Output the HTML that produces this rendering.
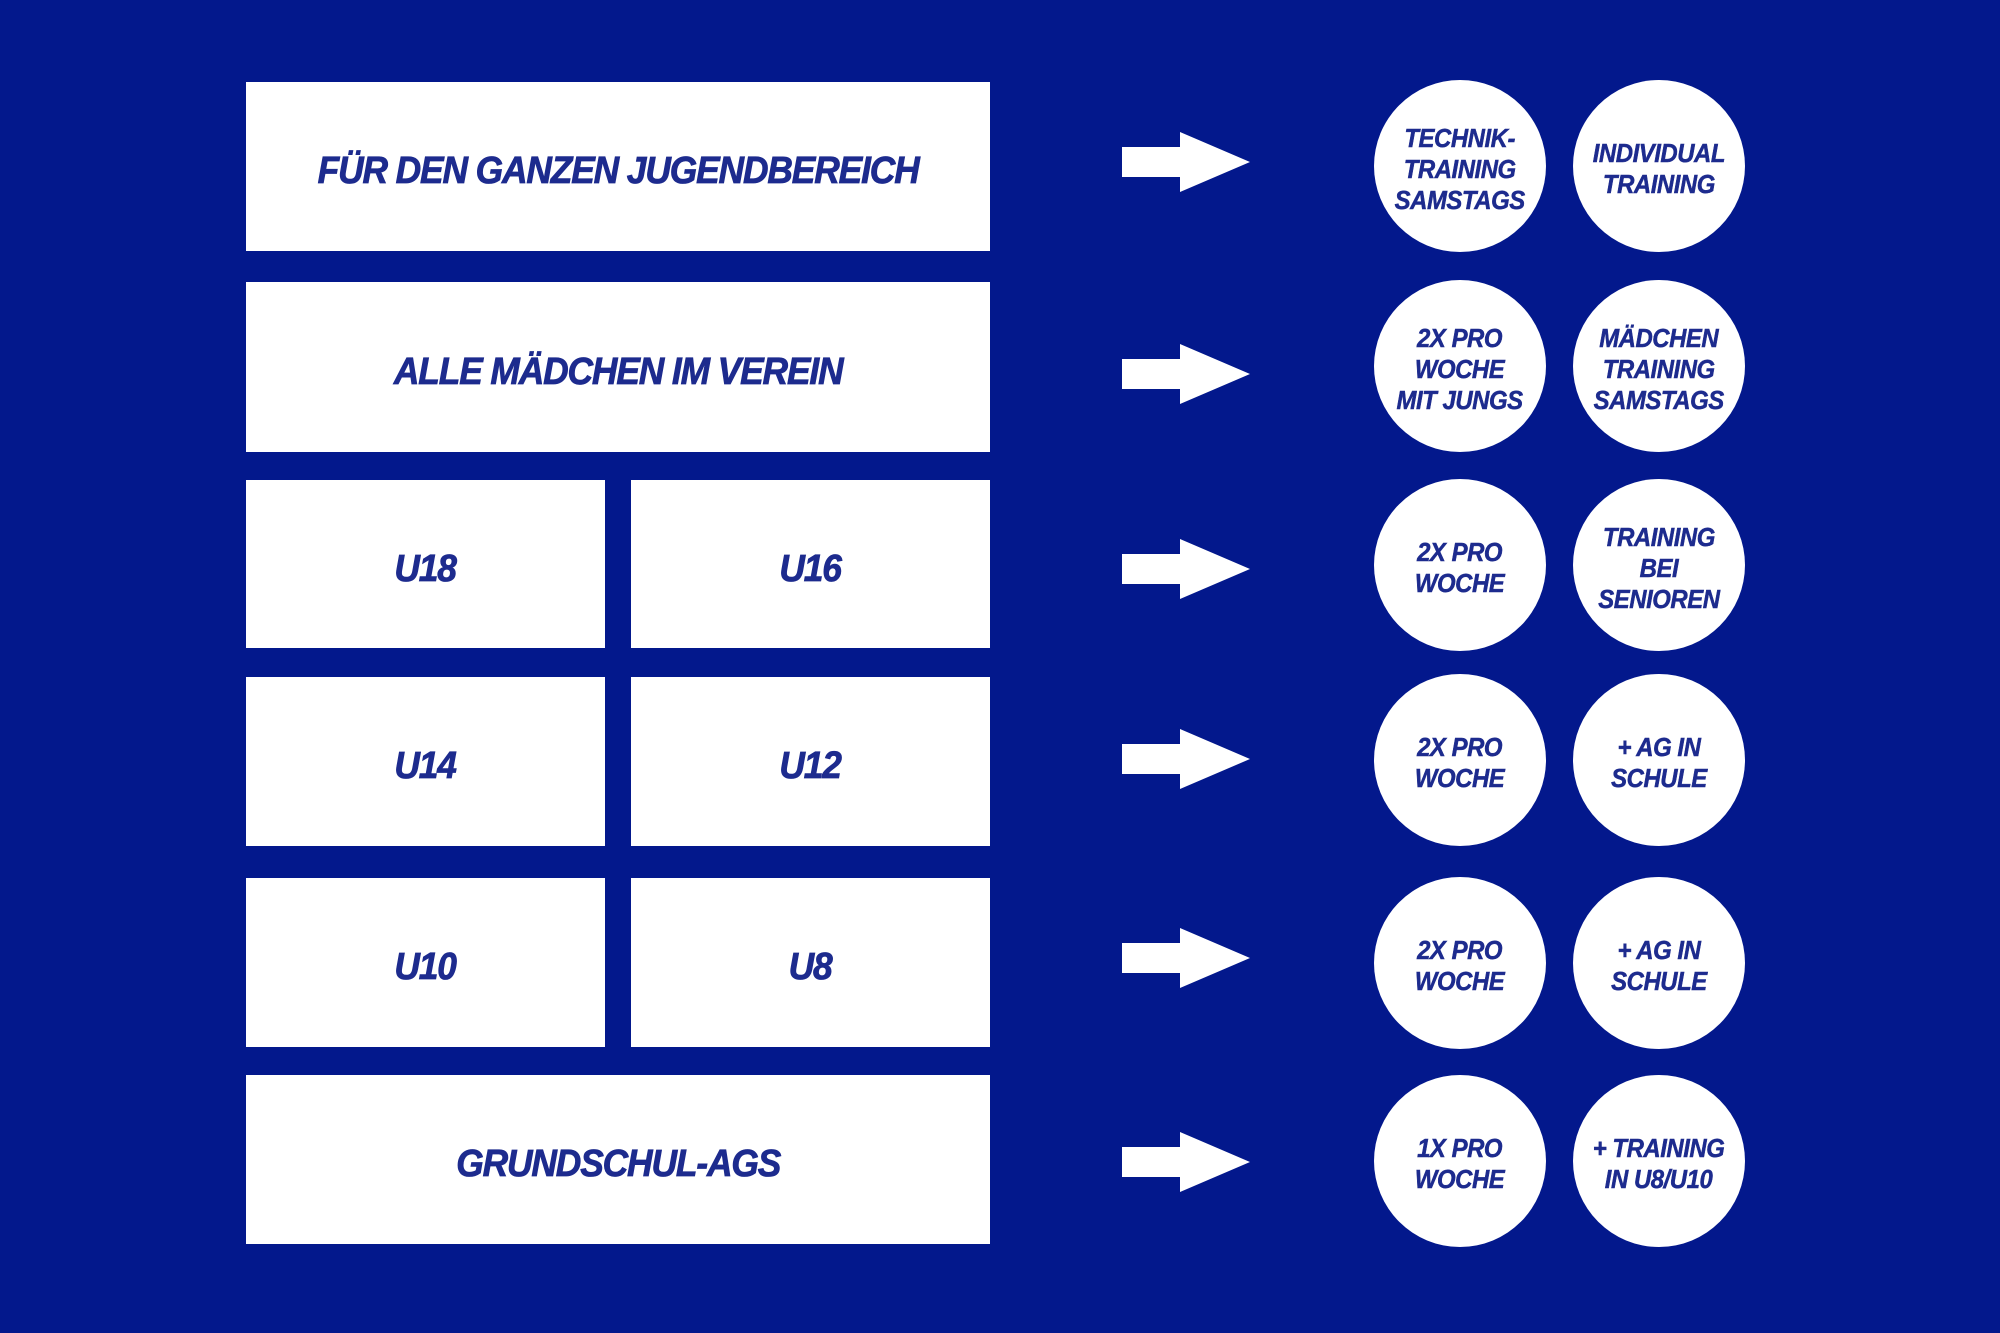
<!DOCTYPE html>
<html><head><meta charset="utf-8"><style>
html,body{margin:0;padding:0}
body{width:2000px;height:1333px;background:#03188c;position:relative;overflow:hidden;font-family:"Liberation Sans",sans-serif}
.b{position:absolute;background:#fff;display:flex;align-items:center;justify-content:center;color:#1d2b8e;font-weight:bold;font-style:italic;font-size:38px;letter-spacing:-1.2px}
.b span{display:inline-block;transform:translateY(5px) scaleX(0.93);-webkit-text-stroke:0.8px #1d2b8e}
.c{position:absolute;width:172px;height:172px;border-radius:50%;background:#fff;display:flex;align-items:center;justify-content:center;text-align:center;color:#1d2b8e;font-weight:bold;font-style:italic;font-size:26px;line-height:31px;letter-spacing:-0.5px}
.c span{display:inline-block;transform:translateY(3px) scaleX(0.92);-webkit-text-stroke:0.5px #1d2b8e}
.a{position:absolute;left:1122px;width:130px;height:60px}
</style></head><body>
<div class="b" style="left:246px;top:82px;width:744px;height:169px"><span>FÜR DEN GANZEN JUGENDBEREICH</span></div>
<div class="b" style="left:246px;top:282px;width:744px;height:170px"><span>ALLE MÄDCHEN IM VEREIN</span></div>
<div class="b" style="left:246px;top:480px;width:359px;height:168px"><span>U18</span></div>
<div class="b" style="left:631px;top:480px;width:359px;height:168px"><span>U16</span></div>
<div class="b" style="left:246px;top:677px;width:359px;height:169px"><span>U14</span></div>
<div class="b" style="left:631px;top:677px;width:359px;height:169px"><span>U12</span></div>
<div class="b" style="left:246px;top:878px;width:359px;height:169px"><span>U10</span></div>
<div class="b" style="left:631px;top:878px;width:359px;height:169px"><span>U8</span></div>
<div class="b" style="left:246px;top:1075px;width:744px;height:169px"><span>GRUNDSCHUL-AGS</span></div>

<svg class="a" style="top:132px" viewBox="0 0 130 60"><polygon points="0,15 58,15 58,0 128,30 58,60 58,45 0,45" fill="#fff"/></svg>
<svg class="a" style="top:344px" viewBox="0 0 130 60"><polygon points="0,15 58,15 58,0 128,30 58,60 58,45 0,45" fill="#fff"/></svg>
<svg class="a" style="top:539px" viewBox="0 0 130 60"><polygon points="0,15 58,15 58,0 128,30 58,60 58,45 0,45" fill="#fff"/></svg>
<svg class="a" style="top:729px" viewBox="0 0 130 60"><polygon points="0,15 58,15 58,0 128,30 58,60 58,45 0,45" fill="#fff"/></svg>
<svg class="a" style="top:928px" viewBox="0 0 130 60"><polygon points="0,15 58,15 58,0 128,30 58,60 58,45 0,45" fill="#fff"/></svg>
<svg class="a" style="top:1132px" viewBox="0 0 130 60"><polygon points="0,15 58,15 58,0 128,30 58,60 58,45 0,45" fill="#fff"/></svg>

<div class="c" style="left:1374px;top:80px"><span>TECHNIK-<br>TRAINING<br>SAMSTAGS</span></div>
<div class="c" style="left:1573px;top:80px"><span>INDIVIDUAL<br>TRAINING</span></div>
<div class="c" style="left:1374px;top:280px"><span>2X PRO<br>WOCHE<br>MIT JUNGS</span></div>
<div class="c" style="left:1573px;top:280px"><span>MÄDCHEN<br>TRAINING<br>SAMSTAGS</span></div>
<div class="c" style="left:1374px;top:479px"><span>2X PRO<br>WOCHE</span></div>
<div class="c" style="left:1573px;top:479px"><span>TRAINING<br>BEI<br>SENIOREN</span></div>
<div class="c" style="left:1374px;top:674px"><span>2X PRO<br>WOCHE</span></div>
<div class="c" style="left:1573px;top:674px"><span>+ AG IN<br>SCHULE</span></div>
<div class="c" style="left:1374px;top:877px"><span>2X PRO<br>WOCHE</span></div>
<div class="c" style="left:1573px;top:877px"><span>+ AG IN<br>SCHULE</span></div>
<div class="c" style="left:1374px;top:1075px"><span>1X PRO<br>WOCHE</span></div>
<div class="c" style="left:1573px;top:1075px"><span>+ TRAINING<br>IN U8/U10</span></div>
</body></html>
